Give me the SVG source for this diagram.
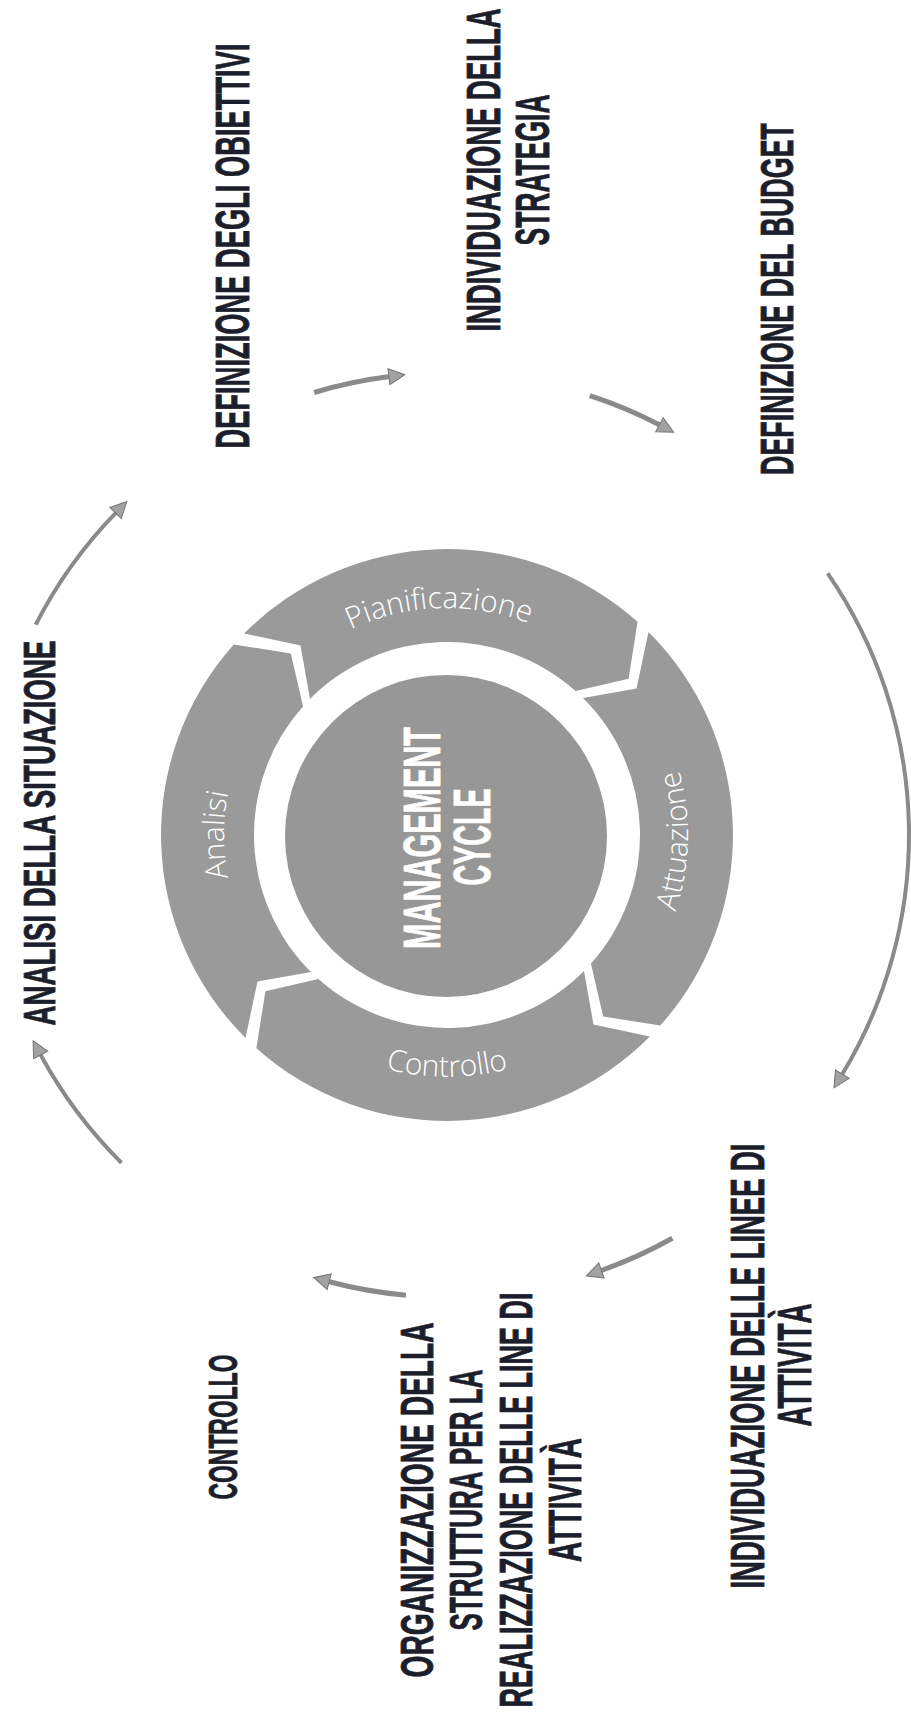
<svg xmlns="http://www.w3.org/2000/svg" width="911" height="1719" viewBox="0 0 911 1719">
<style>
.seg{fill:#9a9a9a}
.core{fill:#979797}
.ring{font-family:"Open Sans","Liberation Sans",sans-serif;font-weight:300;font-size:30px;fill:#ffffff}
.lbl{font-family:"Liberation Sans",Arial,sans-serif;font-weight:bold;fill:#1c1f2b;stroke:#1c1f2b;stroke-width:0.8;text-anchor:middle}
.mc{font-family:"Liberation Sans",Arial,sans-serif;font-weight:bold;font-size:51px;fill:#ffffff;stroke:#ffffff;stroke-width:0.8;text-anchor:middle}
.arr{fill:none;stroke:#8a8a8a;stroke-width:5;stroke-linecap:butt}
.arr2{fill:none;stroke:#8a8a8a;stroke-width:4;stroke-linecap:butt}
</style>
<defs>
<marker id="ah" markerUnits="userSpaceOnUse" markerWidth="20" markerHeight="20" viewBox="0 -10 18 20" refX="1" refY="0" orient="auto">
<path d="M0,-8 L16,0 L0,8 Z" fill="#a2a2a2" stroke="#747474" stroke-width="1"/>
</marker>
<path id="tpAna" d="M408.3,1054.6 A223,223 0 0 1 408.3,615.4"/>
<path id="tpPia" d="M222.2,803.4 A227,227 0 0 1 669.0,787.8"/>
<path id="tpAtt" d="M482.6,1073.3 A241,241 0 0 0 495.1,598.8"/>
<path id="tpCon" d="M208.7,877 A242,242 0 0 0 685.3,877"/>
</defs>
<rect width="911" height="1719" fill="#ffffff"/>

<g id="cycle">
<g id="seg-pianificazione">
<path class="seg" d="M244.1,633.5 A286,286 0 0 1 637.6,621.8 L628.6,678.8 L575.6,691.1 A193,193 0 0 0 310.0,699.0 L300.5,645.5 Z"/>
<text class="ring"><textPath href="#tpPia" startOffset="50%" text-anchor="middle">Pianificazione</textPath></text>
</g>
<g id="seg-attuazione">
<path class="seg" d="M648.5,632.1 A286,286 0 0 1 660.2,1025.6 L603.2,1016.6 L590.9,963.6 A193,193 0 0 0 583.0,698.0 L636.5,688.5 Z"/>
<text class="ring"><textPath href="#tpAtt" startOffset="50%" text-anchor="middle">Attuazione</textPath></text>
</g>
<g id="seg-controllo">
<path class="seg" d="M649.9,1036.5 A286,286 0 0 1 256.4,1048.2 L265.4,991.2 L318.4,978.9 A193,193 0 0 0 584.0,971.0 L593.5,1024.5 Z"/>
<text class="ring"><textPath href="#tpCon" startOffset="50%" text-anchor="middle">Controllo</textPath></text>
</g>
<g id="seg-analisi">
<path class="seg" d="M245.5,1037.9 A286,286 0 0 1 233.8,644.4 L290.8,653.4 L303.1,706.4 A193,193 0 0 0 311.0,972.0 L257.5,981.5 Z"/>
<text class="ring"><textPath href="#tpAna" startOffset="50%" text-anchor="middle">Analisi</textPath></text>
</g>
<g id="core">
<circle class="core" cx="446" cy="836" r="161"/>
<text class="mc" transform="translate(440,838) rotate(-90)" textLength="222" lengthAdjust="spacingAndGlyphs">MANAGEMENT</text>
<text class="mc" transform="translate(490,837) rotate(-90)" textLength="97" lengthAdjust="spacingAndGlyphs">CYCLE</text>
</g>
</g>

<g id="connectors">
<path class="arr2" d="M35.7,624.6 A462,462 0 0 1 116.3,512.3" marker-end="url(#ah)"/>
<path class="arr" d="M314.2,392.5 A462,462 0 0 1 389.9,376.6" marker-end="url(#ah)"/>
<path class="arr" d="M589.8,395.6 A462,462 0 0 1 660.3,425.2" marker-end="url(#ah)"/>
<path class="arr2" d="M827.7,573.3 A462,462 0 0 1 841.8,1075.0" marker-end="url(#ah)"/>
<path class="arr" d="M672.4,1238.3 A462,462 0 0 1 600.5,1270.8" marker-end="url(#ah)"/>
<path class="arr" d="M405.9,1295.2 A462,462 0 0 1 328.2,1281.5" marker-end="url(#ah)"/>
<path class="arr2" d="M121.5,1162.8 A462,462 0 0 1 40.2,1054.0" marker-end="url(#ah)"/>
</g>

<g id="n-analisi-situazione">
<text class="lbl" font-size="45" transform="translate(55,833) rotate(-90)" textLength="385" lengthAdjust="spacingAndGlyphs">ANALISI DELLA SITUAZIONE</text>
</g>
<g id="n-obiettivi">
<text class="lbl" font-size="48" transform="translate(249,246) rotate(-90)" textLength="405" lengthAdjust="spacingAndGlyphs">DEFINIZIONE DEGLI OBIETTIVI</text>
</g>
<g id="n-strategia">
<text class="lbl" font-size="48" transform="translate(500,170) rotate(-90)" textLength="323" lengthAdjust="spacingAndGlyphs">INDIVIDUAZIONE DELLA</text>
<text class="lbl" font-size="48" transform="translate(549,170) rotate(-90)" textLength="151" lengthAdjust="spacingAndGlyphs">STRATEGIA</text>
</g>
<g id="n-budget">
<text class="lbl" font-size="46" transform="translate(793,299) rotate(-90)" textLength="352" lengthAdjust="spacingAndGlyphs">DEFINIZIONE DEL BUDGET</text>
</g>
<g id="n-linee">
<text class="lbl" font-size="48" transform="translate(764,1366) rotate(-90)" textLength="445" lengthAdjust="spacingAndGlyphs">INDIVIDUAZIONE DELLE LINEE DI</text>
<text class="lbl" font-size="48" transform="translate(811,1365) rotate(-90)" textLength="123" lengthAdjust="spacingAndGlyphs">ATTIVITÀ</text>
</g>
<g id="n-organizzazione">
<text class="lbl" font-size="46" transform="translate(433,1500) rotate(-90)" textLength="355" lengthAdjust="spacingAndGlyphs">ORGANIZZAZIONE DELLA</text>
<text class="lbl" font-size="46" transform="translate(482,1500) rotate(-90)" textLength="261" lengthAdjust="spacingAndGlyphs">STRUTTURA PER LA</text>
<text class="lbl" font-size="46" transform="translate(532,1500) rotate(-90)" textLength="415" lengthAdjust="spacingAndGlyphs">REALIZZAZIONE DELLE LINE DI</text>
<text class="lbl" font-size="46" transform="translate(581,1500) rotate(-90)" textLength="124" lengthAdjust="spacingAndGlyphs">ATTIVITÀ</text>
</g>
<g id="n-controllo">
<text class="lbl" font-size="41" transform="translate(237,1427) rotate(-90)" textLength="145" lengthAdjust="spacingAndGlyphs">CONTROLLO</text>
</g>
</svg>
